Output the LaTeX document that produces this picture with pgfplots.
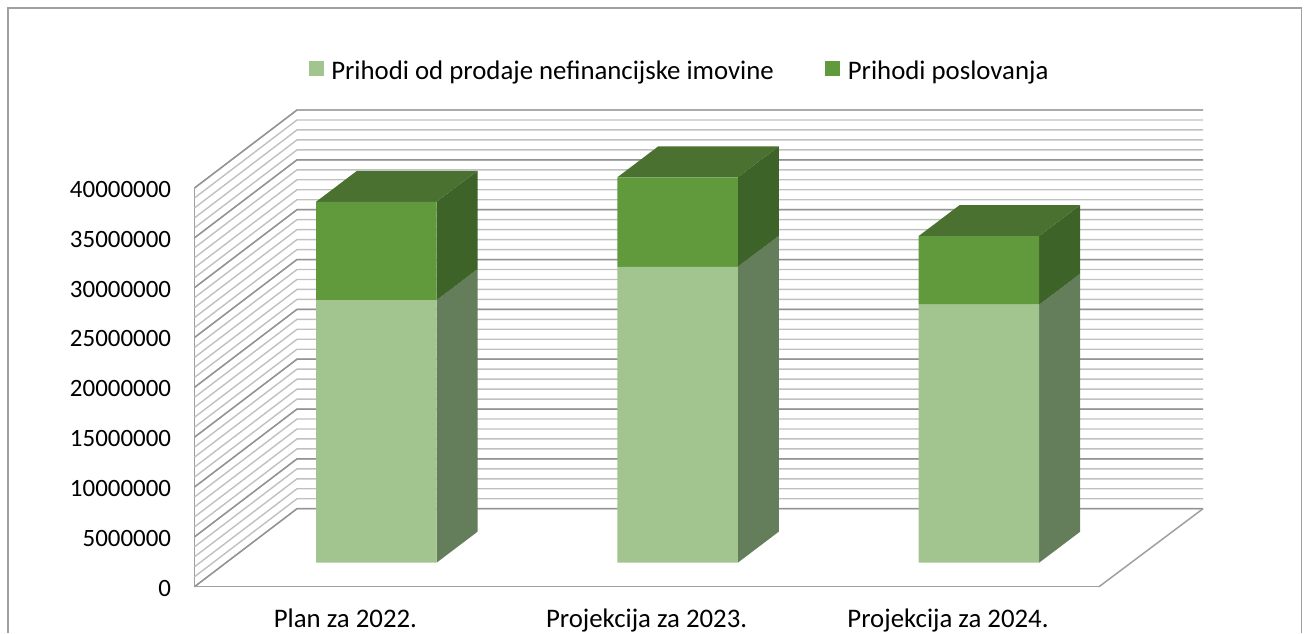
\documentclass[border=0pt]{standalone}
\usepackage{fontspec}
\setmainfont{Carlito}
\usepackage{pgfplots}
\pgfplotsset{compat=1.18}
\definecolor{lowfront}{HTML}{A2C58F}
\definecolor{lowside}{HTML}{647D5A}
\definecolor{upfront}{HTML}{619A3D}
\definecolor{upside}{HTML}{3E6329}
\definecolor{uptop}{HTML}{4A7130}
\definecolor{gridminor}{HTML}{C0C0C0}
\definecolor{gridmajor}{HTML}{939393}
\definecolor{framec}{HTML}{A0A0A0}
\pgfplotsset{
  common/.style={
    scale only axis, width=678.375pt, height=299.025pt,
    at={(145.875pt,34.725pt)}, anchor=south west,
    xmin=194.5, xmax=1099, ymin=0, ymax=40000000, clip=false,
  },
}
\begin{document}
\fontsize{20}{24}\selectfont
\begin{tikzpicture}
\path[use as bounding box] (0,0) rectangle (978pt,474.75pt);
\draw[framec,line width=1.1pt] (6pt,0) -- (6pt,468.75pt) -- (976pt,468.75pt) -- (976pt,0);
\begin{axis}[common,
  axis x line=bottom, axis y line=left,
  axis line style={-,draw=framec,line width=1.1pt},
  xtick={344.6,645.8,947.2},
  xticklabels={Plan za 2022.,Projekcija za 2023.,Projekcija za 2024.},
  ytick={0,5000000,10000000,15000000,20000000,25000000,30000000,35000000,40000000},
  scaled y ticks=false,
  major tick length=0pt,
  tick style={draw=none},
  yticklabel style={font=\fontsize{18.7}{23}\selectfont,/pgf/number format/fixed,/pgf/number format/1000 sep={},/pgf/number format/assume math mode=true,xshift=-10.7pt,yshift=-1pt},
  xticklabel style={font=\fontsize{20.1}{24}\selectfont,yshift=-10pt,xshift=0.6pt},
]
\pgfplotsforeachungrouped \vv in {0,...,40}{
  \pgfmathsetmacro\ww{\vv+7.825}
  \edef\temp{\noexpand\addplot[gridminor,line width=1.05pt,forget plot] coordinates {(194.5,\vv e6) (297,\ww e6) (1203,\ww e6)};}
  \temp
}
\pgfplotsforeachungrouped \vv in {0,5,...,40}{
  \pgfmathsetmacro\ww{\vv+7.825}
  \edef\temp{\noexpand\addplot[gridmajor,line width=1.1pt,forget plot] coordinates {(194.5,\vv e6) (297,\ww e6) (1203,\ww e6)};}
  \temp
}
% floor front-right edge
\addplot[framec,line width=1.1pt,forget plot] coordinates {(1099,0) (1203,7825000)};
% side and top faces of the boxes (depth 41 px by 31 px = 3110000)
\addplot[fill=lowside,draw=none,forget plot,shift={(23.775pt,18pt)}] coordinates {(404.85,0) (445.85,3110000) (445.85,29460000) (404.85,26350000)} -- cycle;
\addplot[fill=upside,draw=none,forget plot,shift={(23.775pt,18pt)}] coordinates {(404.85,26350000) (445.85,29460000) (445.85,39320000) (404.85,36210000)} -- cycle;
\addplot[fill=uptop,draw=none,forget plot,shift={(23.775pt,18pt)}] coordinates {(284.35,36210000) (325.35,39320000) (445.85,39320000) (404.85,36210000)} -- cycle;
\addplot[fill=lowside,draw=none,forget plot,shift={(23.775pt,18pt)}] coordinates {(706.05,0) (747.05,3110000) (747.05,32800000) (706.05,29690000)} -- cycle;
\addplot[fill=upside,draw=none,forget plot,shift={(23.775pt,18pt)}] coordinates {(706.05,29690000) (747.05,32800000) (747.05,41770000) (706.05,38660000)} -- cycle;
\addplot[fill=uptop,draw=none,forget plot,shift={(23.775pt,18pt)}] coordinates {(585.55,38660000) (626.55,41770000) (747.05,41770000) (706.05,38660000)} -- cycle;
\addplot[fill=lowside,draw=none,forget plot,shift={(23.775pt,18pt)}] coordinates {(1007.45,0) (1048.45,3110000) (1048.45,29000000) (1007.45,25890000)} -- cycle;
\addplot[fill=upside,draw=none,forget plot,shift={(23.775pt,18pt)}] coordinates {(1007.45,25890000) (1048.45,29000000) (1048.45,35880000) (1007.45,32770000)} -- cycle;
\addplot[fill=uptop,draw=none,forget plot,shift={(23.775pt,18pt)}] coordinates {(886.95,32770000) (927.95,35880000) (1048.45,35880000) (1007.45,32770000)} -- cycle;
\end{axis}
\begin{axis}[common, hide axis,
  ybar stacked, bar width=90.375pt, bar shift=23.775pt,
  legend style={draw=none,fill=none,at={(0.1262,1.2915)},anchor=west,legend columns=2,
    font=\fontsize{20.1}{24}\selectfont,
    /tikz/every even column/.append style={column sep=36.5pt},
    /tikz/every odd column/.append style={column sep=3.7pt},
    inner sep=0pt,outer sep=0pt},
  legend image code/.code={\fill[#1] (0pt,-21pt) rectangle (11.25pt,-9.8pt);},
]
\addplot[fill=lowfront,draw=none,yshift=18pt] coordinates {(344.6,26350000) (645.8,29690000) (947.2,25890000)};
\addlegendentry{Prihodi od prodaje nefinancijske imovine}
\addplot[fill=upfront,draw=none,yshift=18pt] coordinates {(344.6,9860000) (645.8,8970000) (947.2,6880000)};
\addlegendentry{Prihodi poslovanja}
\end{axis}
\end{tikzpicture}
\end{document}
